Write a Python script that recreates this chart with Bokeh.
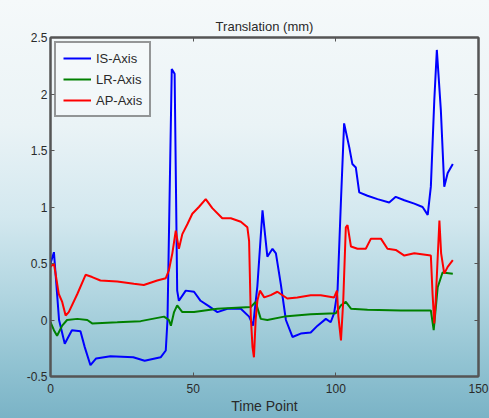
from bokeh.plotting import figure
from bokeh.models import (LinearAxis, FixedTicker, CustomJSTickFormatter, Range1d,
                          Legend, LegendItem)
from bokeh.embed import file_html
from bokeh.resources import INLINE

# ---- data ----
is_t = [0, 1.2, 3.0, 5.0, 7.5, 10.5, 12.0, 14.0, 16.0, 21.0,
        29.0, 33.0, 38.6, 40.4, 41.0, 42.5, 43.5, 44.4, 45.0, 47.4,
        50.3, 52.6, 55.6, 58.5, 62.0, 66.7, 69.6, 71.0, 72.5, 74.3,
        76.0, 77.8, 79.0, 80.7, 82.5, 84.8, 87.7, 91.2, 93.6, 96.5,
        98.2, 99.4, 100.6, 101.8, 102.9, 104.7, 105.8, 107.0, 108.2, 111.1,
        114.6, 118.7, 121.0, 124.0, 127.5, 130.4, 132.2, 133.3, 134.5, 135.4,
        136.8, 138.0, 139.2, 141.0]
is_v = [0.5, 0.6, 0.0, -0.21, -0.09, -0.1, -0.24, -0.4, -0.34, -0.32,
        -0.33, -0.36, -0.33, -0.27, 0.0, 2.22, 2.18, 0.26, 0.17, 0.26,
        0.25, 0.17, 0.12, 0.07, 0.1, 0.1, 0.03, -0.05, 0.3, 0.97,
        0.56, 0.63, 0.59, 0.32, 0.0, -0.15, -0.12, -0.11, -0.05, 0.01,
        -0.02, 0.06, 0.26, 1.06, 1.74, 1.53, 1.38, 1.35, 1.13, 1.1,
        1.07, 1.04, 1.09, 1.06, 1.03, 1.0, 0.93, 1.18, 1.94, 2.39,
        1.86, 1.18, 1.3, 1.38]

lr_t = [0, 1.2, 2.3, 4.1, 5.8, 9.4, 12.9, 14.6, 23.4, 31.6,
        39.8, 41.5, 42.2, 43.3, 44.4, 46.2, 50.3, 58.5, 70.2, 71.9,
        73.7, 76.0, 81.9, 91.2, 100.0, 101.8, 103.5, 105.3, 111.1, 122.8,
        133.3, 134.3, 135.7, 137.4, 141.0]
lr_v = [-0.02, -0.09, -0.14, -0.05, 0.0, 0.01, 0.0, -0.03, -0.02, -0.01,
        0.03, 0.0, -0.05, 0.07, 0.13, 0.07, 0.07, 0.1, 0.115, 0.16,
        0.01, 0.0, 0.03, 0.05, 0.06, 0.13, 0.16, 0.1, 0.09, 0.085,
        0.085, -0.09, 0.29, 0.42, 0.41]

ap_t = [0, 1.2, 2.9, 4.1, 5.3, 6.4, 9.4, 12.3, 14.6, 17.5,
        23.4, 29.2, 32.7, 37.4, 40.4, 41.5, 42.7, 43.9, 45.0, 46.2,
        48.0, 49.7, 52.0, 54.4, 56.7, 60.2, 63.2, 66.7, 69.0, 69.6,
        70.2, 70.8, 71.3, 71.9, 72.5, 73.4, 74.9, 77.2, 79.5, 83.0,
        86.5, 91.2, 94.7, 99.4, 100.4, 100.9, 101.8, 102.6, 103.5, 104.1,
        105.3, 107.6, 110.5, 112.3, 115.8, 118.1, 121.0, 124.0, 127.5, 133.3,
        133.9, 134.5, 135.0, 136.3, 136.9, 138.0, 139.2, 141.0]
ap_v = [0.47, 0.5, 0.23, 0.16, 0.04, 0.07, 0.23, 0.4, 0.38, 0.35,
        0.34, 0.32, 0.31, 0.35, 0.37, 0.44, 0.59, 0.79, 0.63, 0.76,
        0.85, 0.94, 1.0, 1.07, 0.99, 0.9, 0.9, 0.87, 0.82, 0.7,
        0.03, -0.24, -0.33, 0.0, 0.17, 0.26, 0.2, 0.22, 0.25, 0.19,
        0.2, 0.22, 0.22, 0.2, 0.26, 0.03, -0.18, 0.17, 0.82, 0.84,
        0.65, 0.63, 0.63, 0.72, 0.72, 0.63, 0.62, 0.57, 0.59, 0.57,
        0.23, -0.03, 0.17, 0.88, 0.59, 0.41, 0.47, 0.53]

series_labels = ["IS-Axis", "LR-Axis", "AP-Axis"]
x_ticks = [0, 50, 100, 150]
y_ticks = [-0.5, 0, 0.5, 1, 1.5, 2, 2.5]

FONT = "Liberation Sans"
AX = "#555555"
TXT = "#2a2a2a"

p = figure(width=489, height=418, output_backend="svg", toolbar_location=None,
           x_range=Range1d(0, 150), y_range=Range1d(-0.5, 2.5),
           min_border_left=50, min_border_right=11, min_border_top=37,
           min_border_bottom=42, title="Translation (mm)")
p.styles = {"background": "linear-gradient(180deg, #f5f9fa 0%, #eaf3f6 30%, "
                          "#d3e8ef 52%, #b2d6e1 70%, #93c4d3 86%, #7ab3c6 100%)"}
p.background_fill_alpha = 0
p.border_fill_alpha = 0
p.outline_line_color = AX
p.outline_line_width = 2
p.grid.visible = False

p.title.align = "center"
p.title.text_font = FONT
p.title.text_font_size = "13px"
p.title.text_font_style = "normal"
p.title.text_color = TXT
p.title.standoff = 8

fmt = CustomJSTickFormatter(code="return tick.toString();")
blank = CustomJSTickFormatter(code="return '';")

for ax, ticks in ((p.xaxis[0], x_ticks), (p.yaxis[0], y_ticks)):
    ax.ticker = FixedTicker(ticks=ticks)
    ax.formatter = fmt
    ax.major_tick_in = 4
    ax.major_tick_out = 0
    ax.minor_tick_in = 0
    ax.minor_tick_out = 0
    ax.axis_line_color = AX
    ax.axis_line_width = 2
    ax.major_tick_line_color = AX
    ax.major_label_text_font = FONT
    ax.major_label_text_font_size = "12px"
    ax.major_label_text_color = TXT

p.xaxis.major_label_standoff = 7
p.yaxis.major_label_standoff = 3
p.xaxis.axis_label = "Time Point"
p.xaxis.axis_label_text_font = FONT
p.xaxis.axis_label_text_font_size = "14px"
p.xaxis.axis_label_text_font_style = "normal"
p.xaxis.axis_label_text_color = TXT
p.xaxis.axis_label_standoff = 2

for loc, ticks in (("above", x_ticks), ("right", y_ticks)):
    a = LinearAxis(ticker=FixedTicker(ticks=ticks), formatter=blank,
                   major_tick_in=4, major_tick_out=0, minor_tick_in=0, minor_tick_out=0,
                   axis_line_color=AX, axis_line_width=2, major_tick_line_color=AX,
                   major_label_standoff=0)
    p.add_layout(a, loc)

r1 = p.line(is_t, is_v, line_color="#0000ff", line_width=2)
r2 = p.line(lr_t, lr_v, line_color="#008000", line_width=2)
r3 = p.line(ap_t, ap_v, line_color="#ff0000", line_width=2)

legend = Legend(items=[LegendItem(label=series_labels[0], renderers=[r1]),
                       LegendItem(label=series_labels[1], renderers=[r2]),
                       LegendItem(label=series_labels[2], renderers=[r3])],
                location="top_left", margin=4, padding=7, spacing=5,
                glyph_width=28, glyph_height=16, label_height=16, label_standoff=5,
                label_text_font=FONT, label_text_font_size="13px", label_text_color=TXT,
                border_line_color="#333333", border_line_width=2,
                background_fill_color="white", background_fill_alpha=0.3)
p.add_layout(legend)

open("out.html", "w").write(file_html(p, INLINE))
